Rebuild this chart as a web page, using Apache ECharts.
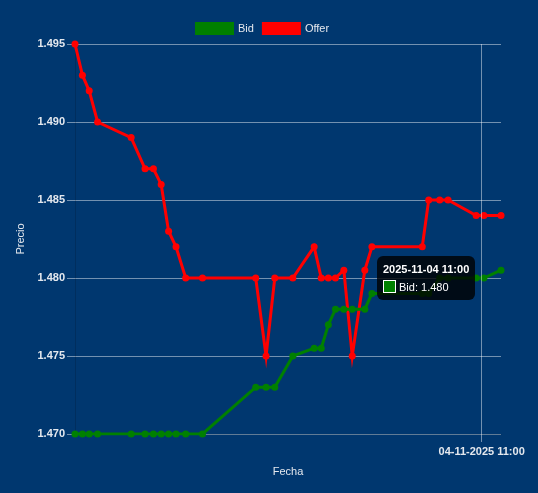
<!DOCTYPE html>
<html>
<head>
<meta charset="utf-8">
<script src="https://cdn.jsdelivr.net/npm/echarts@6/dist/echarts.min.js"></script>
<style>
  html, body { margin: 0; padding: 0; background: #00376f; }
  #chart { width: 538px; height: 493px; }
</style>
</head>
<body>
<div id="chart"></div>
<script>
// horas de las cotizaciones (04-11-2025)
const fechas = [
  '2025-11-04 10:39:00', '2025-11-04 10:39:23', '2025-11-04 10:39:44', '2025-11-04 10:40:10',
  '2025-11-04 10:41:54', '2025-11-04 10:42:37', '2025-11-04 10:43:03', '2025-11-04 10:43:27',
  '2025-11-04 10:43:50', '2025-11-04 10:44:13', '2025-11-04 10:44:43', '2025-11-04 10:45:35',
  '2025-11-04 10:48:20', '2025-11-04 10:48:52', '2025-11-04 10:49:19', '2025-11-04 10:50:15',
  '2025-11-04 10:51:21', '2025-11-04 10:51:43', '2025-11-04 10:52:05', '2025-11-04 10:52:27',
  '2025-11-04 10:52:53', '2025-11-04 10:53:19', '2025-11-04 10:53:58', '2025-11-04 10:54:20',
  '2025-11-04 10:56:56', '2025-11-04 10:57:16', '2025-11-04 10:57:50', '2025-11-04 10:58:16',
  '2025-11-04 10:59:43', '2025-11-04 11:00:07', '2025-11-04 11:01:00'
];

const bid = [
  1.470, 1.470, 1.470, 1.470, 1.470, 1.470, 1.470, 1.470, 1.470, 1.470, 1.470, 1.470,
  1.473, 1.473, 1.473, 1.475, 1.4755, 1.4755, 1.477, 1.478, 1.478, 1.478, 1.478, 1.479,
  1.479, 1.479, 1.480, 1.480, 1.480, 1.480, 1.4805
];

const offer = [
  1.495, 1.493, 1.492, 1.490, 1.489, 1.487, 1.487, 1.486, 1.483, 1.482, 1.480, 1.480,
  1.480, 1.475, 1.480, 1.480, 1.482, 1.480, 1.480, 1.480, 1.4805, 1.475, 1.4805, 1.482,
  1.482, 1.485, 1.485, 1.485, 1.484, 1.484, 1.484
];

const yTicks = { min: 1.470, max: 1.495, step: 0.005 };
const inicio = '2025-11-04 10:39:00';
const fin = '2025-11-04 11:01:00';
const marcaX = '2025-11-04 11:00:00';

const textColor = '#e4e8ee';
const gridColor = 'rgba(255,255,255,0.45)';

const chart = echarts.init(document.getElementById('chart'));

const ts = (s) => echarts.time.parse(s).getTime();
const toPairs = (vals) => vals.map((v, i) => [ts(fechas[i]), v]);
const marcaTs = ts(marcaX);

const option = {
  animation: false,
  backgroundColor: '#00376f',
  textStyle: { fontFamily: 'Arial, "Liberation Sans", sans-serif' },
  legend: {
    top: 17,
    left: 190,
    itemWidth: 39,
    itemHeight: 13,
    itemGap: 8,
    icon: 'rect',
    textStyle: { color: textColor, fontSize: 11, padding: [1, 0, 0, -1] },
    data: ['Bid', 'Offer']
  },
  grid: { left: 75, right: 37, top: 44, bottom: 59 },
  tooltip: {
    trigger: 'item',
    alwaysShowContent: true,
    transitionDuration: 0,
    backgroundColor: 'rgba(0,0,0,0.8)',
    borderWidth: 0,
    borderRadius: 6,
    padding: [6, 6, 6, 6],
    extraCssText: 'box-shadow:none;',
    position: () => [377, 256],
    formatter: (p) => {
      const f = echarts.time.format(p.value[0], '{yyyy}-{MM}-{dd} {HH}:{mm}', false);
      return '<div style="font:bold 11px Arial, sans-serif;color:#fff;line-height:14px;margin-bottom:4px">' + f + '</div>' +
        '<div style="font:11px Arial, sans-serif;color:#fff;line-height:14px;white-space:nowrap">' +
        '<span style="display:inline-block;width:11px;height:11px;background:' + p.color +
        ';border:1px solid #fff;vertical-align:-2px;margin-right:3px"></span>' +
        p.seriesName + ': ' + p.value[1].toFixed(3) + '</div>';
    }
  },
  xAxis: {
    type: 'value',
    min: ts(inicio),
    max: ts(fin),
    name: 'Fecha',
    nameLocation: 'middle',
    nameGap: 32,
    nameTextStyle: { color: textColor, fontSize: 11 },
    axisLine: { show: true, lineStyle: { color: 'rgba(0,0,0,0.15)' } },
    axisTick: { show: true, length: 8, lineStyle: { color: gridColor }, customValues: [marcaTs] },
    axisLabel: {
      color: textColor,
      fontSize: 11,
      fontWeight: 'bold',
      margin: 12,
      customValues: [marcaTs],
      formatter: (v) => echarts.time.format(v, '{dd}-{MM}-{yyyy} {HH}:{mm}', false)
    },
    splitLine: { show: false }
  },
  yAxis: {
    type: 'value',
    min: yTicks.min,
    max: yTicks.max,
    interval: yTicks.step,
    name: 'Precio',
    nameLocation: 'middle',
    nameGap: 42,
    nameTextStyle: { color: textColor, fontSize: 11 },
    axisLine: { show: true, lineStyle: { color: 'rgba(0,0,0,0.15)' } },
    axisTick: { show: true, length: 8, lineStyle: { color: gridColor } },
    axisLabel: {
      color: textColor,
      fontSize: 11,
      fontWeight: 'bold',
      margin: 10,
      formatter: (v) => v.toFixed(3)
    },
    splitLine: { show: true, lineStyle: { color: gridColor, width: 1 } }
  },
  series: [
    {
      name: 'Offer',
      type: 'line',
      z: 2,
      data: toPairs(offer),
      color: '#ff0000',
      symbol: 'circle',
      symbolSize: 7,
      lineStyle: { width: 3, join: 'miter', miterLimit: 10 },
      markLine: {
        silent: true,
        symbol: 'none',
        label: { show: false },
        lineStyle: { color: gridColor, type: 'solid', width: 1 },
        data: [{ xAxis: marcaTs }]
      }
    },
    {
      name: 'Bid',
      type: 'line',
      z: 3,
      data: toPairs(bid),
      color: '#008000',
      symbol: 'circle',
      symbolSize: 7,
      lineStyle: { width: 3, join: 'miter', miterLimit: 10 }
    }
  ]
};

chart.setOption(option);
chart.dispatchAction({ type: 'showTip', seriesIndex: 1, dataIndex: 29 });
</script>
</body>
</html>
